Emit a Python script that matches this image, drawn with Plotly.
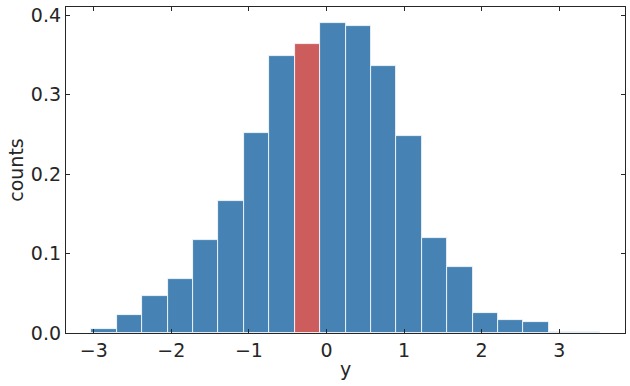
import plotly.graph_objects as go

# Histogram data (density)
bin_start = -3.03
bin_width = 0.3275
heights = [0.0051, 0.0228, 0.0468, 0.0684, 0.1177, 0.1658, 0.2523, 0.3494, 0.3646, 0.3911,
           0.3861, 0.3367, 0.2480, 0.1203, 0.0835, 0.0253, 0.0165, 0.0139, 0.0018, 0.0018]
highlight_index = 8
x_ticks = [-3, -2, -1, 0, 1, 2, 3]
y_ticks = [0.0, 0.1, 0.2, 0.3, 0.4]
y_ticklabels = ["0.0", "0.1", "0.2", "0.3", "0.4"]

centers = [bin_start + bin_width * (i + 0.5) for i in range(len(heights))]
colors = ["#CD5C5C" if i == highlight_index else "#4682B4" for i in range(len(heights))]

fig = go.Figure()
fig.add_trace(go.Bar(
    x=centers, y=heights, width=[bin_width] * len(heights),
    marker=dict(color=colors, line=dict(color="white", width=0.8)),
    showlegend=False,
))

axis_col = "#262626"
font = dict(family="DejaVu Sans", size=19, color=axis_col)

x_lo = bin_start
x_hi = bin_start + bin_width * len(heights)
pad = 0.05 * (x_hi - x_lo)

fig.update_layout(
    width=630, height=386,
    margin=dict(l=66, r=5, t=7, b=53, autoexpand=False),
    paper_bgcolor="white", plot_bgcolor="white",
    font=font,
    bargap=0,
    xaxis=dict(
        range=[x_lo - pad, x_hi + pad],
        tickvals=x_ticks,
        ticks="inside", ticklen=4, tickcolor=axis_col, tickwidth=1,
        showline=True, linecolor=axis_col, linewidth=1.25, mirror="ticks",
        showgrid=False, zeroline=False, automargin=False,
        title=dict(text="y", font=font, standoff=2),
        tickfont=font,
    ),
    yaxis=dict(
        range=[0, max(heights) * 1.05],
        tickvals=y_ticks, ticktext=y_ticklabels,
        ticks="inside", ticklen=4, tickcolor=axis_col, tickwidth=1,
        showline=True, linecolor=axis_col, linewidth=1.25, mirror="ticks",
        showgrid=False, zeroline=False, automargin=False,
        title=dict(text="counts", font=font, standoff=2),
        tickfont=font,
    ),
)

fig.write_html("out.html",
               config={"displayModeBar": False},
               post_script="document.body.style.margin='0';document.body.style.padding='0';")
